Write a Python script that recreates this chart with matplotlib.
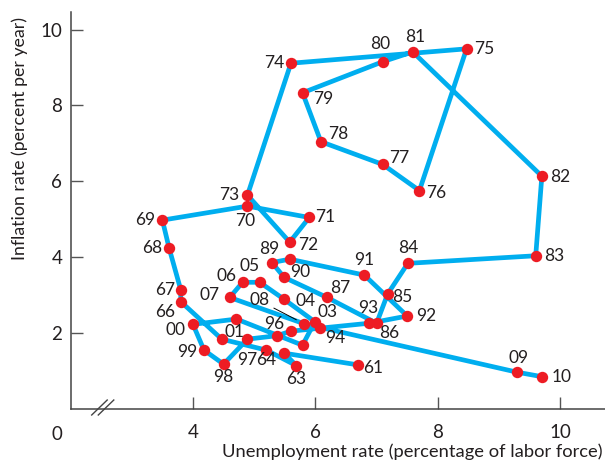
import matplotlib
matplotlib.use("Agg")
import matplotlib.pyplot as plt

plt.rcParams['font.family'] = ['Lato', 'DejaVu Sans']

# Year labels and (unemployment, inflation)
years = ['61', '62', '63', '64', '65', '66', '67', '68', '69', '70',
         '71', '72', '73', '74', '75', '76', '77', '78', '79', '80',
         '81', '82', '83', '84', '85', '86', '87', '88', '89', '90',
         '91', '92', '93', '94', '95', '96', '97', '98', '99', '00',
         '01', '02', '03', '04', '05', '06', '07', '08', '09', '10']
unemployment = [6.70, 5.49, 5.69, 5.20, 4.47, 3.80, 3.80, 3.61, 3.50, 4.89,
                5.90, 5.58, 4.89, 5.60, 8.47, 7.70, 7.10, 6.09, 5.79, 7.10,
                7.59, 9.70, 9.60, 7.51, 7.18, 7.00, 6.19, 5.49, 5.29, 5.58,
                6.80, 7.50, 6.88, 6.08, 5.60, 5.37, 4.89, 4.50, 4.18, 4.00,
                4.71, 5.79, 5.99, 5.49, 5.09, 4.81, 4.60, 5.81, 9.29, 9.70]
inflation = [1.15, 1.46, 1.13, 1.54, 1.83, 2.82, 3.13, 4.23, 4.97, 5.34,
             5.04, 4.39, 5.63, 9.11, 9.49, 5.75, 6.44, 7.04, 8.33, 9.15,
             9.41, 6.13, 4.03, 3.83, 3.02, 2.25, 2.93, 3.46, 3.85, 3.94,
             3.52, 2.44, 2.25, 2.12, 2.04, 1.92, 1.83, 1.17, 1.54, 2.22,
             2.36, 1.67, 2.29, 2.88, 3.33, 3.33, 2.93, 2.24, 0.96, 0.84]

# label offsets in pixels (x right, y up); years not listed get no label
label_offsets = {
    '61': (15, -3), '63': (0, -13), '64': (0, -10), '66': (-16, -10),
    '67': (-16, 0), '68': (-17, 0), '69': (-17, 0), '70': (-2, -15),
    '71': (16, 0), '72': (18, -3), '73': (-18, 0), '74': (-17, 0),
    '75': (18, 0), '76': (17, -2), '77': (17, 6), '78': (17, 8),
    '79': (21, -6), '80': (-3, 18), '81': (2, 15), '82': (18, -1),
    '83': (19, 0), '84': (0, 15), '85': (15, -3), '86': (13, -10),
    '87': (13, 9), '89': (-3, 14), '90': (10, -13), '91': (0, 15),
    '92': (19, 0), '93': (-1, 15), '94': (15, -10), '96': (-3, 12),
    '97': (0, -21), '98': (0, -13), '99': (-17, -2), '00': (-17, -6),
    '01': (-2, -13), '03': (13, 10), '04': (21, -2), '05': (-10, 16),
    '06': (-16, 6), '07': (-20, 2), '09': (2, 14), '10': (20, 0),
}

text_color = '#231f20'
label_size = 12.5
fig = plt.figure(figsize=(6.05, 4.65), dpi=100)
ax = fig.add_axes([70.6 / 605, 56.5 / 465, 534.4 / 605, 396.5 / 465])

ax.plot(unemployment, inflation, color='#00aeef', linewidth=3.4,
        solid_joinstyle='round', zorder=2)
ax.plot(unemployment, inflation, 'o', color='#ed1c24', markersize=8.2,
        markeredgewidth=0, zorder=3)

for yr, x, y in zip(years, unemployment, inflation):
    if yr in label_offsets:
        ax.annotate(yr, (x, y), xytext=label_offsets[yr], textcoords='offset pixels',
                    ha='center', va='center', fontsize=label_size, color=text_color,
                    zorder=4)

# 2008 label with leader line
i08 = years.index('08')
ax.annotate('08', (unemployment[i08], inflation[i08]), xytext=(-44, 24),
            textcoords='offset pixels', ha='center', va='center', fontsize=label_size,
            color=text_color, zorder=4,
            arrowprops=dict(arrowstyle='-', color='black', linewidth=0.7,
                            relpos=(1, 0.1), shrinkA=1, shrinkB=6))

ax.set_xlim(2, 2 + 534.4 / 61.2)
ax.set_ylim(0, 396.5 / 37.9)
ax.set_xticks([4, 6, 8, 10])
ax.set_yticks([2, 4, 6, 8, 10])
ax.tick_params(direction='in', length=8.5, width=1, color='#555555',
               labelsize=13.5, labelcolor=text_color)
ax.tick_params(axis='x', pad=11)
ax.tick_params(axis='y', pad=6)
for s in ['top', 'right']:
    ax.spines[s].set_visible(False)
for s in ['left', 'bottom']:
    ax.spines[s].set_color('#444444')
    ax.spines[s].set_linewidth(1.1)

# axis break marks
for x0 in [0.0395, 0.0518]:
    ax.plot([x0, x0 + 0.029], [-0.0164, 0.0214], color='#444444', linewidth=1,
            transform=ax.transAxes, clip_on=False)

fig.text(57 / 605, 1 - 434 / 465, '0', ha='center', va='center', fontsize=13.5,
         color=text_color)
fig.text(20 / 605, 1 - 138 / 465, 'Inflation rate (percent per year)', rotation=90,
         ha='center', va='center', fontsize=12.8, color=text_color)
fig.text(603 / 605, 1 - 452 / 465, 'Unemployment rate (percentage of labor force)',
         ha='right', va='center', fontsize=13.2, color=text_color)

fig.savefig('out.png', dpi=100)
